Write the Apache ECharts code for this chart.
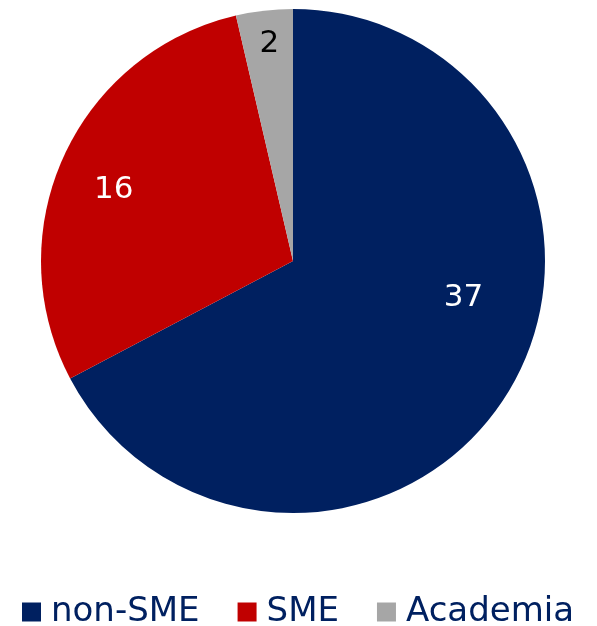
<!DOCTYPE html>
<html>
<head>
<meta charset="utf-8">
<script src="https://cdn.jsdelivr.net/npm/echarts@6/dist/echarts.min.js"></script>
<style>
  html, body { margin: 0; padding: 0; background: #fff; }
  #chart { width: 597px; height: 626px; }
</style>
</head>
<body>
<div id="chart"></div>
<script>
// Participant groups and their counts
const categories = ['non-SME', 'SME', 'Academia'];
const counts = [37, 16, 2];
const colors = ['#002060', '#C00000', '#A6A6A6'];
const labelColors = ['#ffffff', '#ffffff', '#000000'];
// label nudges away from the default inside position
const labelOffsets = [[60, -30], [-62, -17], [-9, -89]];

const chart = echarts.init(document.getElementById('chart'), null, { renderer: 'canvas' });

chart.setOption({
  animation: false,
  textStyle: { fontFamily: 'DejaVu Sans' },
  legend: {
    top: 590,
    left: 17,
    icon: 'rect',
    itemWidth: 19,
    itemHeight: 19,
    itemGap: 38,
    textStyle: {
      fontSize: 34,
      lineHeight: 34,
      color: '#002060',
      fontFamily: 'DejaVu Sans',
      padding: [0, 0, 0, 5]
    },
    data: categories
  },
  series: [{
    type: 'pie',
    center: [293, 261],
    radius: 252,
    startAngle: 90,
    clockwise: true,
    avoidLabelOverlap: false,
    itemStyle: { borderWidth: 0 },
    label: {
      show: true,
      position: 'inside',
      fontSize: 31,
      fontFamily: 'DejaVu Sans',
      formatter: '{c}'
    },
    labelLine: { show: false },
    emphasis: { disabled: true },
    data: categories.map((name, i) => ({
      name: name,
      value: counts[i],
      itemStyle: { color: colors[i] },
      label: { color: labelColors[i], offset: labelOffsets[i] }
    }))
  }]
});
</script>
</body>
</html>
